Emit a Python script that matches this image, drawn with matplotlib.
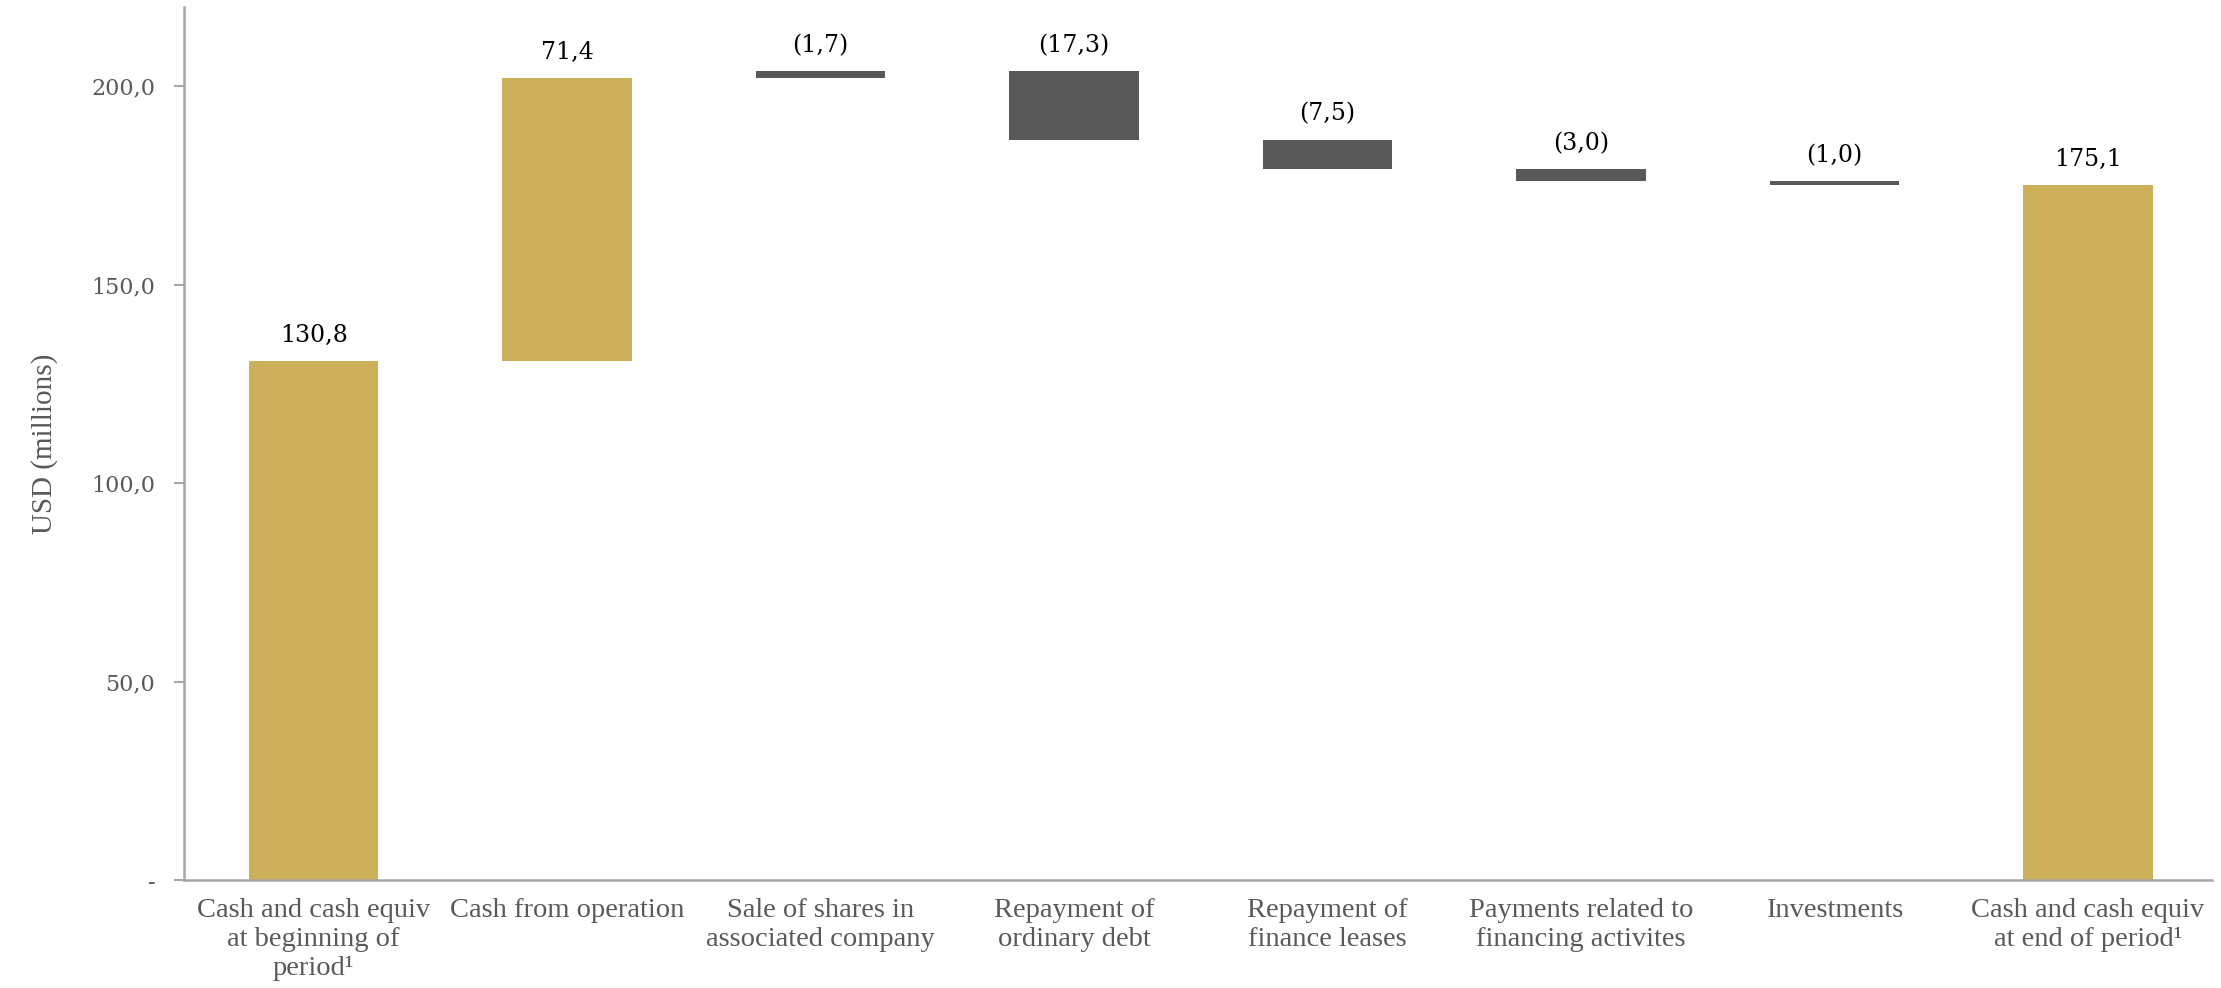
import numpy as np
import matplotlib.pyplot as plt
from matplotlib.ticker import FuncFormatter

categories = ['Cash and cash equiv\nat beginning of\nperiod\u00b9',
              'Cash from operation',
              'Sale of shares in\nassociated company',
              'Repayment of\nordinary debt',
              'Repayment of\nfinance leases',
              'Payments related to\nfinancing activites',
              'Investments',
              'Cash and cash equiv\nat end of period\u00b9']
# signed steps; first and last are totals
values = [130.8, 71.4, 1.7, -17.3, -7.5, -3.0, -1.0, 175.1]
is_total = [True, False, False, False, False, False, False, True]
is_gray = [False, False, True, True, True, True, True, False]

GOLD = '#CCB05A'
DARK = '#595959'
AXIS = '#A6A6A6'

def fmt(v):
    return f'{v:.1f}'.replace('.', ',')

bottoms, heights = [], []
level = 0.0
for v, tot in zip(values, is_total):
    if tot:
        bottoms.append(0.0)
        heights.append(v)
        level = v
    else:
        bottoms.append(min(level, level + v))
        heights.append(abs(v))
        level += v

fig = plt.figure(figsize=(22.21, 9.88), dpi=100)
ax = fig.add_axes([0.083, 0.109, 0.913, 0.884])

x = np.arange(len(categories))
colors = [DARK if g else GOLD for g in is_gray]
ax.bar(x, heights, bottom=bottoms, width=0.51, color=colors)

for xi, b, h, v, g in zip(x, bottoms, heights, values, is_gray):
    txt = f'({fmt(abs(v))})' if g else fmt(abs(v))
    ax.annotate(txt, (xi, b + h), xytext=(0, 10), textcoords='offset points',
                ha='center', va='bottom', fontsize=17, color='black',
                family='DejaVu Serif')

ax.set_xlim(-0.51, 7.49)
ax.set_ylim(0, 220)
ax.set_yticks([0, 50, 100, 150, 200])
ax.yaxis.set_major_formatter(FuncFormatter(lambda v, p: '-' if v == 0 else fmt(v)))
ax.set_xticks(x)
ax.set_xticklabels(categories, family='Liberation Serif', fontsize=20.5,
                   color=DARK, linespacing=1.2)
ax.tick_params(axis='x', length=0, pad=13)
ax.tick_params(axis='y', length=7, width=1.5, color=AXIS, labelcolor=DARK,
               labelsize=16, pad=14)
for lbl in ax.get_yticklabels():
    lbl.set_family('DejaVu Serif')

ax.set_ylabel('USD (millions)', family='Liberation Serif', fontsize=21,
              color=DARK, labelpad=24)

for s in ['top', 'right']:
    ax.spines[s].set_visible(False)
for s in ['left', 'bottom']:
    ax.spines[s].set_color(AXIS)
    ax.spines[s].set_linewidth(1.8)

fig.savefig('out.png', dpi=100)
